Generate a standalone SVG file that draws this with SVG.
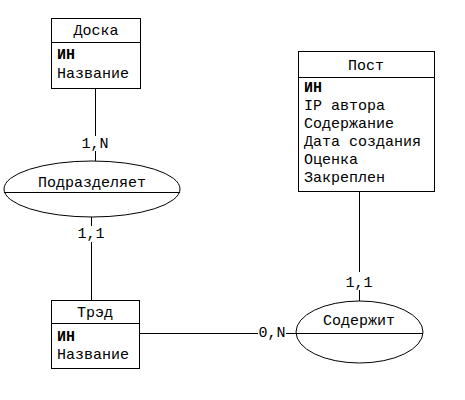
<svg xmlns="http://www.w3.org/2000/svg" width="465" height="400" viewBox="0 0 465 400">
<style>
text{font-family:"Liberation Mono","DejaVu Sans Mono",monospace;font-size:15px;fill:#000}
.c{text-anchor:middle}
.b{font-weight:bold}
.s{fill:none;stroke:#000;stroke-width:1}
.w{fill:#fff;stroke:#000;stroke-width:1}
</style>
<rect width="465" height="400" fill="#fff"/>
<g id="connectors">
<line class="s" x1="95.5" y1="88" x2="95.5" y2="136"/>
<line class="s" x1="95.5" y1="151" x2="95.5" y2="161"/>
<text class="c" x="95" y="148">1,N</text>
<line class="s" x1="91.5" y1="217" x2="91.5" y2="226"/>
<line class="s" x1="91.5" y1="242" x2="91.5" y2="300"/>
<text class="c" x="91" y="238">1,1</text>
<line class="s" x1="359.5" y1="191" x2="359.5" y2="272"/>
<line class="s" x1="359.5" y1="290" x2="359.5" y2="301"/>
<text class="c" x="359" y="287">1,1</text>
<line class="s" x1="139" y1="333.5" x2="258" y2="333.5"/>
<line class="s" x1="286" y1="333.5" x2="296" y2="333.5"/>
<text class="c" x="272" y="337">0,N</text>
</g>
<g id="doska">
<rect class="w" x="51.5" y="18.5" width="89" height="70"/>
<line class="s" x1="51" y1="42.5" x2="141" y2="42.5"/>
<text class="c" x="96" y="35">Доска</text>
<text class="b" x="57" y="59">ИН</text>
<text x="57" y="78">Название</text>
</g>
<g id="post">
<rect class="w" x="298.5" y="51.5" width="136" height="140"/>
<line class="s" x1="298" y1="77.5" x2="435" y2="77.5"/>
<text class="c" x="366" y="70">Пост</text>
<text class="b" x="304" y="92">ИН</text>
<text x="304" y="110">IP автора</text>
<text x="304" y="128">Содержание</text>
<text x="304" y="146">Дата создания</text>
<text x="304" y="164">Оценка</text>
<text x="304" y="182">Закреплен</text>
</g>
<g id="podrazdelyaet">
<ellipse class="w" cx="92" cy="189" rx="88" ry="28"/>
<line class="s" x1="4" y1="192.5" x2="180" y2="192.5"/>
<text class="c" x="92" y="187">Подразделяет</text>
</g>
<g id="tred">
<rect class="w" x="51.5" y="300.5" width="88" height="68"/>
<line class="s" x1="51" y1="323.5" x2="140" y2="323.5"/>
<text class="c" x="95" y="317">Трэд</text>
<text class="b" x="57" y="341">ИН</text>
<text x="57" y="359">Название</text>
</g>
<g id="soderzhit">
<ellipse class="w" cx="359.5" cy="332" rx="63.5" ry="31"/>
<line class="s" x1="296" y1="333.5" x2="423" y2="333.5"/>
<text class="c" x="359" y="325">Содержит</text>
</g>
</svg>
